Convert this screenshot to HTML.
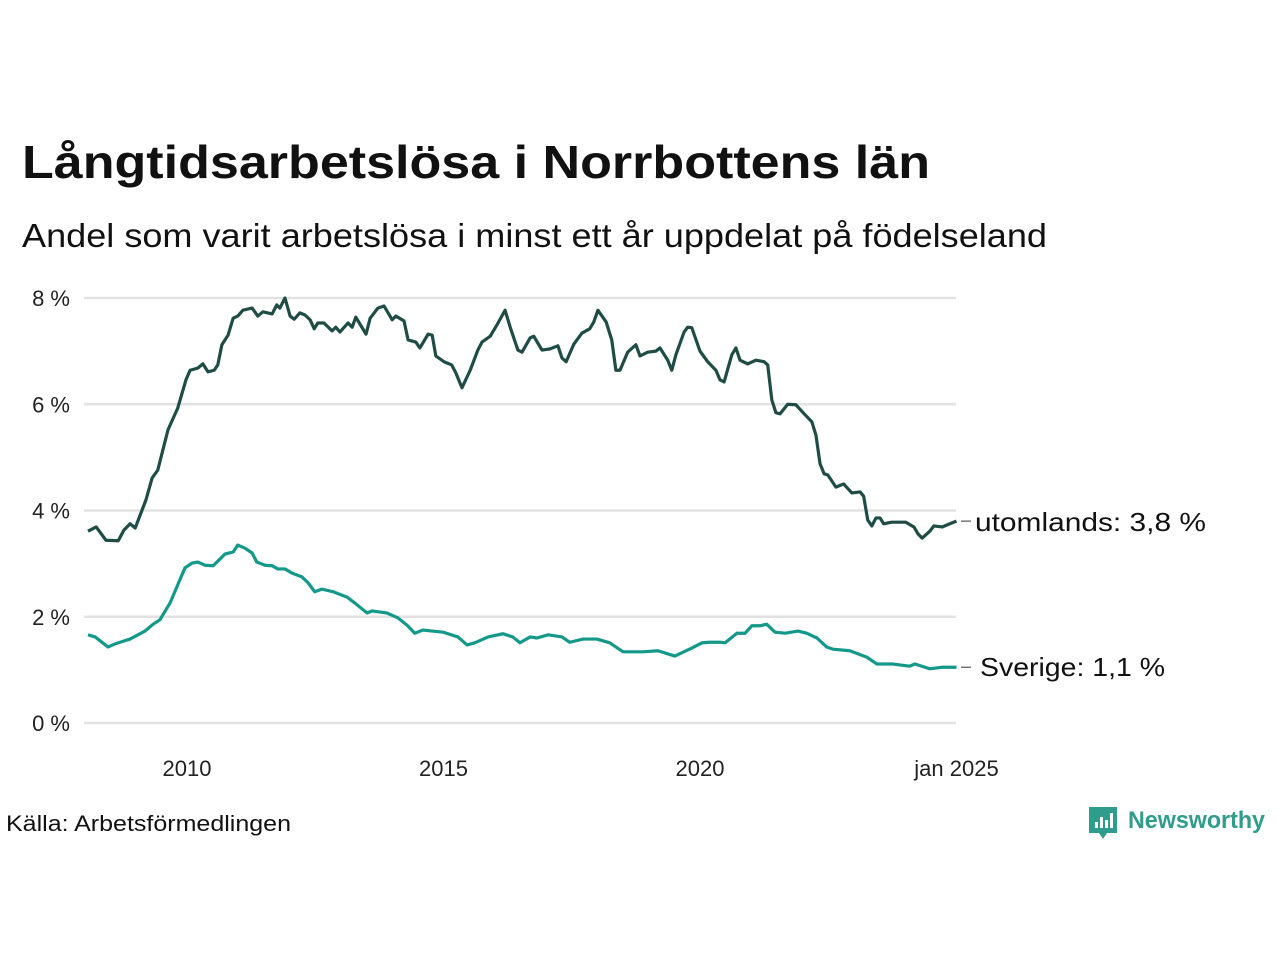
<!DOCTYPE html>
<html><head><meta charset="utf-8"><style>
body{margin:0;background:#fff;font-family:"Liberation Sans",sans-serif;}
#wrap{position:relative;width:1280px;height:960px;overflow:hidden;}
</style></head><body>
<div id="wrap">
<svg id="chart" width="1280" height="960">
<text x="22" y="178" font-size="46" font-weight="bold" fill="#111" textLength="908" lengthAdjust="spacingAndGlyphs">Långtidsarbetslösa i Norrbottens län</text>
<text x="22" y="247" font-size="33" fill="#111" textLength="1025" lengthAdjust="spacingAndGlyphs">Andel som varit arbetslösa i minst ett år uppdelat på födelseland</text>
<g id="grid"></g><g id="lines"></g><g id="labels"></g>
<text x="6" y="831" font-size="22" fill="#111" textLength="285" lengthAdjust="spacingAndGlyphs">Källa: Arbetsförmedlingen</text>
<g>
<path d="M1089 807 h28 v26 h-10 l-4 6 l-4 -6 h-10 z" fill="#2f9c8c"/>
<rect x="1095" y="822" width="3" height="6" fill="#fff"/><rect x="1100" y="817" width="3" height="11" fill="#fff"/><rect x="1105" y="820" width="3" height="8" fill="#fff"/><rect x="1110" y="813" width="3" height="15" fill="#fff"/>
<text x="1128" y="828" font-size="24" font-weight="bold" fill="#2f9c8c" textLength="137" lengthAdjust="spacingAndGlyphs">Newsworthy</text>
</g>
</svg>
</div>
<script>
const yTicks=[0,2,4,6,8];
const yTickLabels=["0 %","2 %","4 %","6 %","8 %"];
const xTicks=[2010,2015,2020,2025];
const xTickLabels=["2010","2015","2020","jan 2025"];
const utDates=[2008.07,2008.23,2008.42,2008.66,2008.77,2008.89,2008.99,2009.20,2009.32,2009.43,2009.63,2009.82,2009.98,2010.06,2010.21,2010.31,2010.41,2010.53,2010.60,2010.68,2010.80,2010.90,2010.99,2011.09,2011.27,2011.38,2011.48,2011.66,2011.75,2011.81,2011.91,2012.01,2012.09,2012.20,2012.30,2012.40,2012.48,2012.55,2012.67,2012.83,2012.90,2012.98,2013.14,2013.22,2013.29,2013.49,2013.57,2013.72,2013.84,2014.00,2014.07,2014.23,2014.31,2014.46,2014.54,2014.70,2014.78,2014.85,2015.01,2015.16,2015.24,2015.36,2015.52,2015.67,2015.75,2015.91,2016.04,2016.20,2016.30,2016.45,2016.53,2016.69,2016.76,2016.92,2017.07,2017.23,2017.31,2017.39,2017.54,2017.70,2017.85,2017.93,2018.01,2018.17,2018.28,2018.36,2018.44,2018.59,2018.75,2018.83,2018.98,2019.14,2019.22,2019.37,2019.45,2019.53,2019.69,2019.76,2019.84,2020.00,2020.15,2020.31,2020.39,2020.47,2020.62,2020.70,2020.78,2020.93,2021.09,2021.25,2021.32,2021.40,2021.48,2021.56,2021.71,2021.87,2022.03,2022.18,2022.26,2022.34,2022.42,2022.49,2022.65,2022.80,2022.96,2023.12,2023.19,2023.27,2023.35,2023.43,2023.51,2023.58,2023.74,2024.01,2024.17,2024.25,2024.33,2024.48,2024.56,2024.72,2024.87,2025.00];
const utValues=[3.61,3.69,3.44,3.43,3.63,3.75,3.67,4.20,4.61,4.76,5.52,5.93,6.46,6.64,6.68,6.76,6.61,6.64,6.74,7.12,7.30,7.62,7.66,7.77,7.81,7.66,7.74,7.70,7.87,7.81,8.00,7.66,7.60,7.72,7.68,7.59,7.42,7.53,7.53,7.38,7.45,7.36,7.53,7.45,7.64,7.32,7.62,7.81,7.85,7.59,7.66,7.57,7.21,7.17,7.06,7.32,7.30,6.91,6.80,6.74,6.59,6.31,6.64,7.02,7.17,7.28,7.49,7.77,7.45,7.02,6.98,7.25,7.28,7.02,7.04,7.10,6.87,6.80,7.13,7.34,7.42,7.55,7.77,7.55,7.21,6.64,6.64,6.98,7.12,6.91,6.98,7.00,7.06,6.83,6.64,6.93,7.36,7.45,7.44,7.00,6.80,6.64,6.46,6.42,6.93,7.06,6.83,6.76,6.83,6.80,6.74,6.08,5.84,5.82,6.00,5.99,5.82,5.67,5.42,4.88,4.69,4.67,4.44,4.50,4.33,4.35,4.27,3.82,3.71,3.86,3.86,3.75,3.78,3.78,3.69,3.56,3.48,3.61,3.71,3.69,3.75,3.80];
const svDates=[2008.07,2008.21,2008.46,2008.60,2008.89,2009.18,2009.34,2009.47,2009.67,2009.96,2010.10,2010.21,2010.35,2010.51,2010.74,2010.90,2010.99,2011.13,2011.27,2011.36,2011.52,2011.66,2011.77,2011.91,2012.05,2012.24,2012.36,2012.49,2012.63,2012.85,2013.12,2013.27,2013.51,2013.61,2013.90,2014.11,2014.29,2014.44,2014.60,2014.99,2015.28,2015.46,2015.61,2015.87,2016.16,2016.35,2016.49,2016.69,2016.82,2017.04,2017.31,2017.46,2017.72,2017.99,2018.24,2018.50,2018.89,2019.18,2019.51,2019.84,2020.04,2020.19,2020.39,2020.49,2020.72,2020.88,2021.01,2021.17,2021.30,2021.46,2021.66,2021.91,2022.08,2022.28,2022.47,2022.59,2022.92,2023.25,2023.45,2023.76,2024.09,2024.19,2024.48,2024.73,2025.00];
const svValues=[1.66,1.62,1.43,1.49,1.58,1.73,1.86,1.94,2.26,2.92,3.01,3.03,2.97,2.96,3.18,3.22,3.35,3.29,3.20,3.03,2.97,2.96,2.90,2.90,2.82,2.75,2.64,2.47,2.52,2.47,2.37,2.26,2.07,2.11,2.07,1.98,1.84,1.69,1.75,1.71,1.62,1.47,1.51,1.62,1.68,1.62,1.51,1.62,1.60,1.66,1.62,1.52,1.58,1.58,1.51,1.34,1.34,1.36,1.26,1.41,1.51,1.52,1.52,1.51,1.69,1.69,1.83,1.83,1.86,1.71,1.69,1.73,1.69,1.60,1.43,1.39,1.36,1.24,1.11,1.11,1.07,1.11,1.02,1.05,1.05];
const seriesLabels=["utomlands: 3,8 %","Sverige: 1,1 %"];

const NS="http://www.w3.org/2000/svg";
const X=d=>187+(d-2010)*51.3;
const Y=v=>723-v*53.125;
function mk(tag,attrs,parent){const e=document.createElementNS(NS,tag);for(const k in attrs)e.setAttribute(k,attrs[k]);parent.appendChild(e);return e;}
const grid=document.getElementById('grid'),lines=document.getElementById('lines'),labels=document.getElementById('labels');
yTicks.forEach((t,i)=>{
  const l=mk('line',{x1:84,x2:956,y1:Y(t),y2:Y(t),stroke:'#e2e2e2','stroke-width':2.5},grid);
  
  
  const tx=mk('text',{x:70,y:Y(t)+8,'font-size':22,fill:'#222','text-anchor':'end'},labels);
  tx.textContent=yTickLabels[i];
  
  
});
xTicks.forEach((t,i)=>{
  const tx=mk('text',{x:X(t),y:776,'font-size':22,fill:'#222','text-anchor':'middle'},labels);
  tx.textContent=xTickLabels[i];
  
  
});
function drawLine(ds,vs,color,name,label,lx,ly,lw){
  const p=mk('polyline',{points:ds.map((d,i)=>X(d)+','+Y(vs[i])).join(' '),fill:'none',stroke:color,'stroke-width':3.2,'stroke-linejoin':'round'},lines);
  
  
  const lastY=Y(vs[vs.length-1]);
  mk('line',{x1:961,x2:971,y1:lastY,y2:lastY,stroke:'#555','stroke-width':1.2},labels);
  const t=mk('text',{x:lx,y:ly,'font-size':26,fill:'#111',textLength:lw,lengthAdjust:'spacingAndGlyphs'},labels);
  t.textContent=label;
  
  
}
drawLine(svDates,svValues,'#14988a','line-sverige',seriesLabels[1],980,676,185);
drawLine(utDates,utValues,'#1f4d45','line-utomlands',seriesLabels[0],975,531,231);
</script>
</body></html>
